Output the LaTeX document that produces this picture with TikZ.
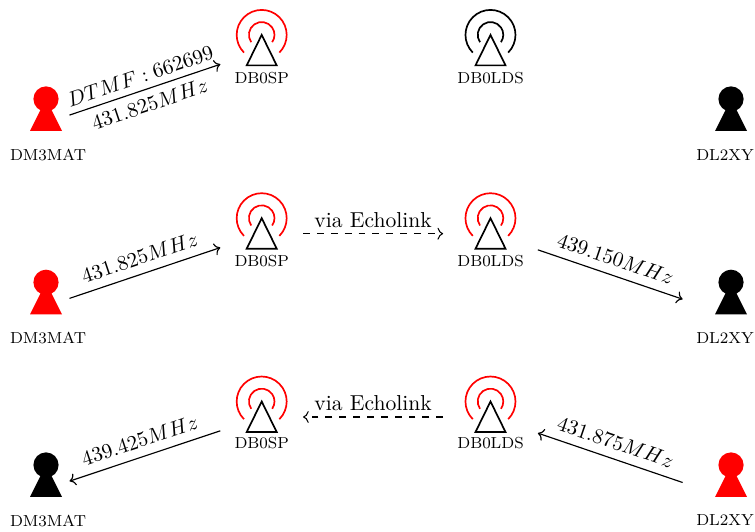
\documentclass[tikz,border=0pt]{standalone}
\usepackage{amsmath,amssymb}
\usepackage{xcolor}
\usetikzlibrary{arrows.meta, positioning}

\tikzset{
    pics/antenna/.style={code={
        \draw[thick, #1] (-17.7,-2.2) arc (225:-45:25);
        \draw[thick, #1] (-10.5,8.2) arc (215:-35:12.8);
        \draw[thick, black] (0,15.5) -- (15,-15) -- (-15,-15) -- cycle;
    }},
    pics/person/.style={code={
        \fill[#1] (0,24) circle (12.6);
        \fill[#1] (-16,-8) -- (16,-8) -- (0,24) -- cycle;
    }},
    hook/.style={inner sep=0pt, minimum height=30pt},
    leftperson/.style={hook, minimum width=22pt},
    rightperson/.style={hook, minimum width=45.7pt},
    spsite/.style={hook, minimum width=39pt},
    ldssite/.style={hook, minimum width=44.7pt},
    nametext/.style={font=\fontsize{7.6}{9}\selectfont, inner sep=0pt},
    radio/.style={->, line width=0.55pt},
    link/.style={->, line width=0.5pt, dash pattern=on 3.3pt off 3.3pt},
    freq/.style={midway, sloped, above, inner sep=4.2pt, font=\fontsize{10.3}{12}\selectfont},
    freqbelow/.style={midway, sloped, below, inner sep=3.5pt, font=\fontsize{10.3}{12}\selectfont},
    dtmf/.style={freq, inner sep=3.2pt},
    viatext/.style={freq, inner sep=2.8pt},
}

\begin{document}
\begin{tikzpicture}[x=0.01674cm, y=0.01674cm]

\useasboundingbox (0,0) rectangle (755,532);

% ---- First row: DTMF call ----
\node[leftperson] (dm3mat1) at (46,409) {};
\node[spsite] (db0sp1) at (261.7,481.6) {};
\node[ldssite] (db0lds1) at (490.5,481.6) {};

\pic at (46,409) {person=red};
\pic at (db0sp1.center) {antenna=red};
\pic at (db0lds1.center) {antenna=black};
\pic at (731,409) {person=black};

\node[nametext] (name dm3mat1) at (48,377) {DM3MAT};
\node[nametext] (name db0sp1) at (261.7,454) {DB0SP};
\node[nametext] (name db0lds1) at (490.5,454) {DB0LDS};
\node[nametext] (name dl2xy1) at (725,377) {DL2XY};

\draw[radio] (dm3mat1) -- (db0sp1)
node[dtmf] {$DTMF: 662699$}
node[freqbelow] {$431.825MHz$};

% ---- Second row: forward to DL2XY ----
\node[leftperson] (dm3mat2) at (46,225.7) {};
\node[spsite] (db0sp2) at (261.7,298.3) {};
\node[ldssite] (db0lds2) at (490.5,298.3) {};
\node[rightperson] (dl2xy2) at (731,216.3) {};

\pic at (46,225.7) {person=red};
\pic at (db0sp2.center) {antenna=red};
\pic at (db0lds2.center) {antenna=red};
\pic at (731,225.7) {person=black};

\node[nametext] (name dm3mat2) at (48,194) {DM3MAT};
\node[nametext] (name db0sp2) at (261.7,271) {DB0SP};
\node[nametext] (name db0lds2) at (490.5,271) {DB0LDS};
\node[nametext] (name dl2xy2) at (725,194) {DL2XY};

\draw[radio] (dm3mat2) -- (db0sp2)
node[freq] {$431.825MHz$};
\draw[link] (db0sp2) -- (db0lds2)
node[viatext] {via Echolink};
\draw[radio] (db0lds2) -- (dl2xy2)
node[freq] {$439.150MHz$};

% ---- Third row: the way back ----
\node[leftperson] (dm3mat3) at (46,43) {};
\node[spsite] (db0sp3) at (261.7,115) {};
\node[ldssite] (db0lds3) at (490.5,115) {};
\node[rightperson] (dl2xy3) at (731,33) {};

\pic at (46,43) {person=black};
\pic at (db0sp3.center) {antenna=red};
\pic at (db0lds3.center) {antenna=red};
\pic at (731,43) {person=red};

\node[nametext] (name dm3mat3) at (48,11.5) {DM3MAT};
\node[nametext] (name db0sp3) at (261.7,88.5) {DB0SP};
\node[nametext] (name db0lds3) at (490.5,88.5) {DB0LDS};
\node[nametext] (name dl2xy3) at (725,11.5) {DL2XY};

\draw[radio] (db0sp3) -- (dm3mat3)
node[freq] {$439.425MHz$};
\draw[link] (db0lds3) -- (db0sp3)
node[viatext] {via Echolink};
\draw[radio] (dl2xy3) -- (db0lds3)
node[freq] {$431.875MHz$};

\end{tikzpicture}
\end{document}
